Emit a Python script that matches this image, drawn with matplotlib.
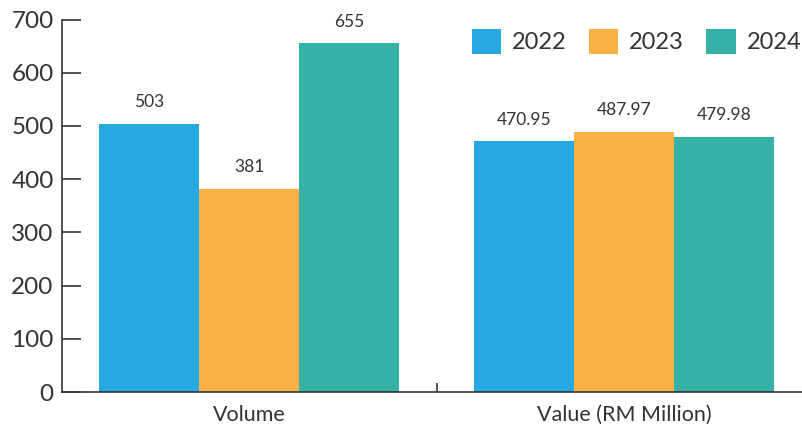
import matplotlib.pyplot as plt
from matplotlib.ticker import FixedLocator

plt.rcParams['font.family'] = ['Lato', 'DejaVu Sans']

categories = ["Volume", "Value (RM Million)"]
years = ["2022", "2023", "2024"]
values_2022 = [503, 470.95]
values_2023 = [381, 487.97]
values_2024 = [655, 479.98]
labels_2022 = ["503", "470.95"]
labels_2023 = ["381", "487.97"]
labels_2024 = ["655", "479.98"]

colors = ["#25a9e0", "#f9b044", "#36b1a8"]
text_color = "#333333"

fig = plt.figure(figsize=(8.03, 4.28), dpi=100)
ax = fig.add_axes([0.0772, 0.0841, 0.9228, 0.8703])

width = 0.8 / 3
x = range(len(categories))
series = [(values_2022, labels_2022), (values_2023, labels_2023), (values_2024, labels_2024)]
for i, (vals, labs) in enumerate(series):
    pos = [c + (i - 1) * width for c in x]
    bars = ax.bar(pos, vals, width=width, color=colors[i], label=years[i])
    for b, lab in zip(bars, labs):
        ax.annotate(lab, (b.get_x() + b.get_width() / 2, b.get_height()),
                    xytext=(0, 10), textcoords="offset points",
                    ha="center", va="bottom", fontsize=12.5, color=text_color)

ax.set_xlim(-0.5, 1.476)
ax.set_ylim(0, 700)
ax.set_yticks(range(0, 701, 100))

ax.set_xticks(list(x))
ax.set_xticklabels(categories)
ax.xaxis.set_minor_locator(FixedLocator([0.5]))
ax.tick_params(axis="x", which="major", length=0, pad=9, labelsize=15.5, labelcolor=text_color)
ax.tick_params(axis="x", which="minor", direction="in", length=6.5, width=1.2, color=text_color)
ax.tick_params(axis="y", direction="in", length=13.5, width=1.2, pad=6, labelsize=17.5,
               labelcolor=text_color, color=text_color)

for side in ["top", "right"]:
    ax.spines[side].set_visible(False)
for side in ["left", "bottom"]:
    ax.spines[side].set_color(text_color)
    ax.spines[side].set_linewidth(1.2)

ax.legend(loc="upper right", bbox_to_anchor=(1.026, 1.032), ncol=3, frameon=False,
          fontsize=17, handlelength=1.25, handleheight=1.25, handletextpad=0.45,
          columnspacing=0.95, labelcolor=text_color)

fig.savefig("out.png", dpi=100)
